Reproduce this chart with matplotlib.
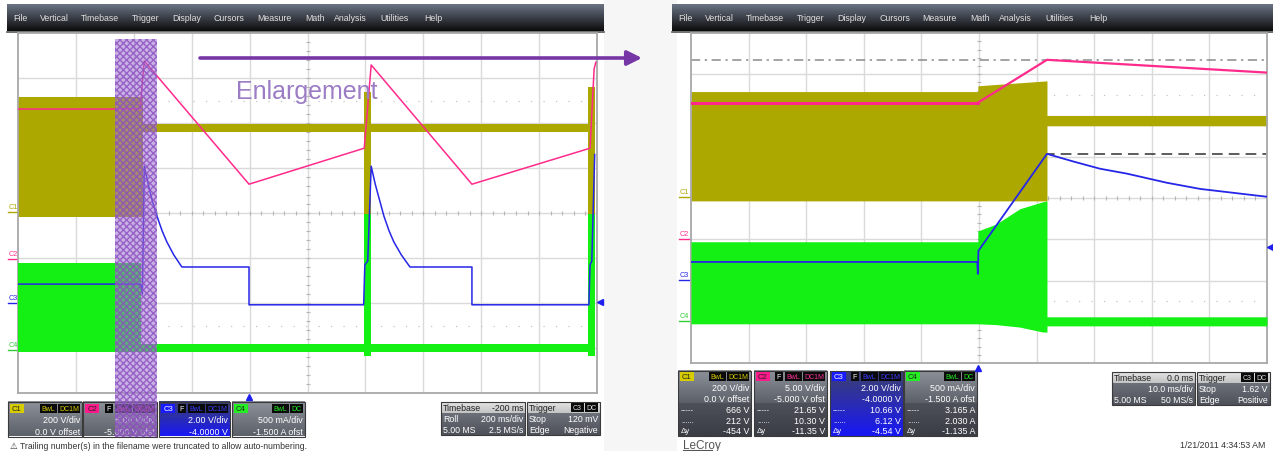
import matplotlib
matplotlib.use('Agg')
import numpy as np
import matplotlib.pyplot as plt
from matplotlib.patches import Rectangle
from matplotlib.colors import to_rgb

W, H = 1273, 452
FONT = ['Liberation Sans', 'DejaVu Sans']
plt.rcParams['font.family'] = FONT

# ---------------- data (x: time in divisions 0..10, y: screen divisions 0..8) ----------------
# Screen 1: roll mode 200 ms/div
s1_c1_t   = [0, 2.16, 2.16, 5.97, 5.97, 6.10, 6.10, 9.85, 9.85, 9.97]
s1_c1_top = [6.58, 6.58, 5.98, 5.98, 6.69, 6.69, 5.98, 5.98, 6.80, 6.80]
s1_c1_bot = [3.91, 3.91, 5.80, 5.80, 3.93, 3.93, 5.80, 5.80, 3.93, 3.93]

s1_c2_t = [0, 2.11, 2.18, 3.99, 5.98, 6.10, 7.84, 9.88, 9.95, 9.98]
s1_c2_v = [6.31, 6.31, 7.38, 4.64, 5.44, 7.29, 4.64, 5.44, 7.20, 7.35]

s1_c3_t = [0, 2.12, 2.15, 2.18, 2.25, 2.31, 2.40, 2.49, 2.57, 2.69, 2.83, 3.99, 3.99,
           5.97, 5.99, 6.04, 6.10, 6.17, 6.24, 6.32, 6.41, 6.49, 6.62, 6.77, 7.84, 7.84,
           9.86, 9.88, 9.91, 9.96]
s1_c3_v = [2.42, 2.42, 2.20, 5.04, 4.64, 4.31, 3.93, 3.60, 3.36, 3.07, 2.80, 2.80, 1.96,
           1.96, 2.85, 2.93, 5.04, 4.64, 4.31, 3.93, 3.60, 3.36, 3.07, 2.80, 2.80, 1.96,
           1.96, 2.85, 2.93, 5.30]

s1_c4_t   = [0, 2.13, 2.13, 5.97, 5.97, 6.10, 6.10, 9.85, 9.85, 9.97]
s1_c4_top = [2.89, 2.89, 1.09, 1.09, 3.98, 3.98, 1.09, 1.09, 3.98, 3.98]
s1_c4_bot = [0.91, 0.91, 0.91, 0.91, 0.82, 0.82, 0.91, 0.91, 0.82, 0.82]

# Screen 2: 10 ms/div enlargement
s2_c1_t   = [0, 4.98, 4.98, 6.18, 6.18, 10]
s2_c1_top = [6.58, 6.58, 6.72, 6.84, 6.00, 6.00]
s2_c1_bot = [3.93, 3.93, 3.93, 3.93, 5.75, 5.75]

s2_c2_t = [0, 4.98, 6.18, 10]
s2_c2_v = [6.31, 6.31, 7.35, 7.04]

s2_c3_t = [0, 4.97, 4.98, 4.99, 6.18, 6.65, 7.10, 7.57, 8.26, 8.84, 10]
s2_c3_v = [2.45, 2.45, 2.16, 2.72, 5.07, 4.88, 4.71, 4.59, 4.37, 4.22, 4.03]

s2_c4_t   = [0, 4.98, 4.98, 5.30, 5.71, 6.11, 6.18, 6.18, 10]
s2_c4_top = [2.94, 2.94, 3.20, 3.37, 3.74, 3.91, 3.93, 1.12, 1.12]
s2_c4_bot = [0.95, 0.95, 0.95, 0.93, 0.87, 0.75, 0.75, 0.90, 0.90]

s2_cursor_c2 = 7.35
s2_cursor_c3 = 5.07

menu_items = ["File", "Vertical", "Timebase", "Trigger", "Display", "Cursors",
              "Measure", "Math", "Analysis", "Utilities", "Help"]
menu_offsets = [0, 27, 68, 119, 159, 201, 244, 292, 321, 367, 411]

ch_names = ["C1", "C2", "C3", "C4"]
ch_tags = [["BwL", "DC1M"], ["F", "BwL", "DC1M"], ["F", "BwL", "DC1M"], ["BwL", "DC"]]
ch_vdiv = ["200 V/div", "5.00 V/div", "2.00 V/div", "500 mA/div"]
ch_ofs = ["0.0 V offset", "-5.000 V ofst", "-4.0000 V", "-1.500 A ofst"]
meas_cur1 = ["666 V", "21.65 V", "10.66 V", "3.165 A"]
meas_cur2 = ["212 V", "10.30 V", "6.12 V", "2.030 A"]
meas_dy = ["-454 V", "-11.35 V", "-4.54 V", "-1.135 A"]

OLIVE = '#aca800'
MAG = '#ff2a8c'
BLUE = '#2626e8'
GREEN = '#14f014'
CH_COL = ['#d6cc00', '#ff1a8c', '#1a1aff', '#22ee22']
TAG_COL = ['#d6cc00', '#ff3399', '#3a3aff', '#22ee22']

fig = plt.figure(figsize=(W / 100, H / 100), dpi=100)
fig.patch.set_facecolor('white')

ov = fig.add_axes([0, 0, 1, 1])
ov.set_xlim(0, W)
ov.set_ylim(H, 0)
ov.axis('off')
ov.set_autoscale_on(False)
ov.set_zorder(10)
ov.patch.set_alpha(0)

bg = fig.add_axes([0, 0, 1, 1])
bg.set_xlim(0, W)
bg.set_ylim(H, 0)
bg.axis('off')
bg.set_zorder(0)
bg.add_patch(Rectangle((604, 0), 73, H, color='#f6f6f6', lw=0))


def grad(ax, x0, y0, x1, y1, ctop, cbot, z=1):
    a = np.array(to_rgb(ctop))
    b = np.array(to_rgb(cbot))
    f = np.linspace(0, 1, 32)[:, None]
    img = (a * (1 - f) + b * f)[:, None, :]
    ax.imshow(img, extent=(x0, x1, y1, y0), aspect='auto', zorder=z,
              interpolation='bilinear')


def menubar(x0, x1):
    grad(bg, x0, 5, x1, 32, '#6a7384', '#0c0c0c', z=1)
    bg.plot([x0, x1], [32.5, 32.5], color='#555555', lw=1.2, zorder=2)
    for name, off in zip(menu_items, menu_offsets):
        bg.text(x0 + 6 + off, 18.5, name, color='#e0e0e0', fontsize=6.3,
                va='center', ha='left', zorder=3)


def scope(px0, py0, px1, py1):
    ax = fig.add_axes([px0 / W, 1 - py1 / H, (px1 - px0) / W, (py1 - py0) / H])
    ax.set_zorder(5)
    ax.set_xlim(0, 10)
    ax.set_ylim(0, 8)
    ax.set_xticks([])
    ax.set_yticks([])
    for v in range(1, 10):
        ax.axvline(v, color='#dadada', lw=1.0, zorder=0)
    for v in range(1, 8):
        ax.axhline(v, color='#dadada', lw=1.0, zorder=0)
    for v in (1.5, 6.5):
        ax.axhline(v, color='#c4c4c4', lw=0.9, ls=(0, (1, 9)), zorder=0)
    tx = np.arange(0.2, 10, 0.2)
    ax.plot(tx, np.full_like(tx, 4.0), ls='none', marker='|', ms=3.5,
            color='#b5b5b5', mew=0.8, zorder=0)
    ty = np.arange(0.2, 8, 0.2)
    ax.plot(np.full_like(ty, 5.0), ty, ls='none', marker='_', ms=3.5,
            color='#b5b5b5', mew=0.8, zorder=0)
    for s in ax.spines.values():
        s.set_color('#a8a8a8')
        s.set_linewidth(1.3)
    return ax


menubar(7, 604)
menubar(672, 1273)

# ---------------- screen 1 ----------------
a1 = scope(18, 34, 597, 394)
a1.fill_between(s1_c1_t, s1_c1_bot, s1_c1_top, color=OLIVE, lw=0, zorder=2)
a1.fill_between(s1_c4_t, s1_c4_bot, s1_c4_top, color=GREEN, lw=0, zorder=3)
a1.plot(s1_c3_t, s1_c3_v, color=BLUE, lw=1.1, zorder=4)
a1.plot(s1_c2_t, s1_c2_v, color=MAG, lw=1.1, zorder=5)

# ---------------- screen 2 ----------------
a2 = scope(691, 34, 1267, 364)
a2.axhline(s2_cursor_c2, color='#8a8a8a', lw=1.1, ls=(0, (6, 3, 1.5, 3)), zorder=1)
a2.axhline(s2_cursor_c3, color='#303030', lw=1.1, ls=(0, (7, 4)), zorder=1)
a2.fill_between(s2_c1_t, s2_c1_bot, s2_c1_top, color=OLIVE, lw=0, zorder=2)
a2.fill_between(s2_c4_t, s2_c4_bot, s2_c4_top, color=GREEN, lw=0, zorder=3)
a2.plot(s2_c3_t, s2_c3_v, color=BLUE, lw=1.3, zorder=4)
a2.plot(s2_c2_t[:2], s2_c2_v[:2], color=MAG, lw=2.2, zorder=5)
a2.plot(s2_c2_t[1:], s2_c2_v[1:], color=MAG, lw=1.6, zorder=5)


# channel ground labels
def ch_labels(x, ys):
    for name, y, c in zip(ch_names, ys, [OLIVE, MAG, BLUE, '#33cc33']):
        bg.text(x, y, name, color=c, fontsize=5.2, ha='center', va='center', zorder=3)
        bg.plot([x - 5, x + 5], [y + 4.5, y + 4.5], color=c, lw=1.0, zorder=3)


ch_labels(13, [208, 255, 299, 346])
ch_labels(684, [193, 235, 276, 317])

# markers
ov.plot([249], [398], marker='^', color='#2020ee', ms=5, zorder=6)
ov.plot([978], [369], marker='^', color='#2020ee', ms=5, zorder=6)
ov.plot([600], [303], marker='<', color='#2020ee', ms=5, zorder=6)
ov.plot([1270], [248], marker='<', color='#2020ee', ms=5, zorder=6)


# ---------------- info boxes ----------------
def tagbox(x_right, y, label, col):
    w = 4.4 * len(label) + 4
    ov.add_patch(Rectangle((x_right - w, y - 4.5), w, 9, color='#0a0a0a', lw=0, zorder=4))
    ov.text(x_right - w / 2, y, label, color=col, fontsize=5.0, ha='center',
            va='center', zorder=5)
    return x_right - w - 1.5


def chan_box(i, x0, y0, w, rows, meas):
    rh = 11.5 if rows == 3 else 10.8
    h = rh * rows
    x1 = x0 + w
    if i == 2:
        grad(ov, x0, y0, x1, y0 + h, '#3c4070', '#1818f5', z=2)
    else:
        grad(ov, x0, y0, x1, y0 + rh * 3, '#8d9199', '#5c6069', z=2)
        if rows > 3:
            grad(ov, x0, y0 + rh * 3, x1, y0 + h, '#4d5058', '#3a3d44', z=2)
    ov.add_patch(Rectangle((x0, y0), w, h, fill=False, ec='#3a3a3a', lw=0.8, zorder=3))
    yc = y0 + rh / 2 + 0.5
    ov.add_patch(Rectangle((x0 + 2, yc - 4.5), 14, 9, color=CH_COL[i], lw=0, zorder=4))
    ov.text(x0 + 9, yc, ch_names[i], color='#222222' if i != 2 else '#ffffff',
            fontsize=5.5, ha='center', va='center', zorder=5)
    xr = x1 - 2
    for t in reversed(ch_tags[i]):
        xr = tagbox(xr, yc, t, '#ffffff' if t == 'F' else TAG_COL[i])
    ov.text(x1 - 2, y0 + rh * 1.5 + 0.5, ch_vdiv[i], color='white', fontsize=6.4,
            ha='right', va='center', zorder=5)
    ov.text(x1 - 2, y0 + rh * 2.5 + 0.5, ch_ofs[i], color='white', fontsize=6.4,
            ha='right', va='center', zorder=5)
    if meas:
        vals = [meas_cur1[i], meas_cur2[i], meas_dy[i]]
        syms = ['-----', '......', 'Δy']
        for k in range(3):
            yy = y0 + rh * (3.5 + k) + 0.5
            ov.text(x0 + 3, yy, syms[k], color='white', fontsize=5.6, ha='left',
                    va='center', zorder=5)
            ov.text(x1 - 2, yy, vals[k], color='white', fontsize=6.4, ha='right',
                    va='center', zorder=5)


def info_box(x0, y0, w, header_l, header_r, rows):
    rh = 11.0
    x1 = x0 + w
    grad(ov, x0, y0, x1, y0 + rh, '#e4e4e4', '#c4c4c4', z=2)
    grad(ov, x0, y0 + rh, x1, y0 + rh * 3, '#6c7079', '#4e5159', z=2)
    ov.add_patch(Rectangle((x0, y0), w, rh * 3, fill=False, ec='#3a3a3a', lw=0.8, zorder=3))
    ov.text(x0 + 2, y0 + rh / 2 + 0.5, header_l, color='#202020', fontsize=6.3,
            ha='left', va='center', zorder=5)
    if header_r:
        ov.text(x1 - 2, y0 + rh / 2 + 0.5, header_r, color='#202020', fontsize=6.3,
                ha='right', va='center', zorder=5)
    for k, (l, r) in enumerate(rows):
        yy = y0 + rh * (1.5 + k) + 0.5
        ov.text(x0 + 2, yy, l, color='white', fontsize=6.3, ha='left', va='center', zorder=5)
        ov.text(x1 - 2, yy, r, color='white', fontsize=6.3, ha='right', va='center', zorder=5)


def trig_tags(x1, y0):
    yc = y0 + 5.5
    xr = tagbox(x1 - 2, yc, "DC", '#dddddd')
    tagbox(xr, yc, "C3", '#dddddd')


lx = [8, 83, 159, 232]
lw_ = [74, 74, 71, 73]
for i in range(4):
    chan_box(i, lx[i], 403, lw_[i], 3, False)
info_box(441, 403, 84, "Timebase", "-200 ms",
         [("Roll", "200 ms/div"), ("5.00 MS", "2.5 MS/s")])
info_box(527, 403, 73, "Trigger", "", [("Stop", "120 mV"), ("Edge", "Negative")])
trig_tags(600, 403)

rx = [678, 754, 830, 904]
for i in range(4):
    chan_box(i, rx[i], 372, 73, 6, True)
info_box(1112, 373, 83, "Timebase", "0.0 ms",
         [("", "10.0 ms/div"), ("5.00 MS", "50 MS/s")])
info_box(1197, 373, 73, "Trigger", "", [("Stop", "1.62 V"), ("Edge", "Positive")])
trig_tags(1270, 373)

# footer texts
ov.text(10, 447, "\u26a0 Trailing number(s) in the filename were truncated to allow auto-numbering.",
        color='#333333', fontsize=6.2, ha='left', va='center', family=FONT, zorder=5)
ov.text(683, 446, "LeCroy", color='#555555', fontsize=8.5, ha='left', va='center', zorder=5)
ov.plot([683, 712], [451, 451], color='#555555', lw=0.8, zorder=5)
ov.text(1265, 446, "1/21/2011 4:34:53 AM", color='#333333', fontsize=6.3, ha='right',
        va='center', zorder=5)

# enlargement highlight + arrow
ov.add_patch(Rectangle((115, 40), 42, 398, facecolor=(0.62, 0.45, 0.82, 0.55),
                       edgecolor=(0.55, 0.3, 0.75, 0.8), hatch='xxxxx', lw=0, zorder=7))
ov.annotate('', xy=(642, 59), xytext=(200, 59),
            arrowprops=dict(arrowstyle='-|>', color='#7636a6', lw=2.6, mutation_scale=22,
                            shrinkA=0, shrinkB=0), zorder=8)
ov.text(236, 92, "Enlargement", color='#9c7cc4', fontsize=18, ha='left', va='center',
        zorder=8)

fig.savefig('out.png', dpi=100)
